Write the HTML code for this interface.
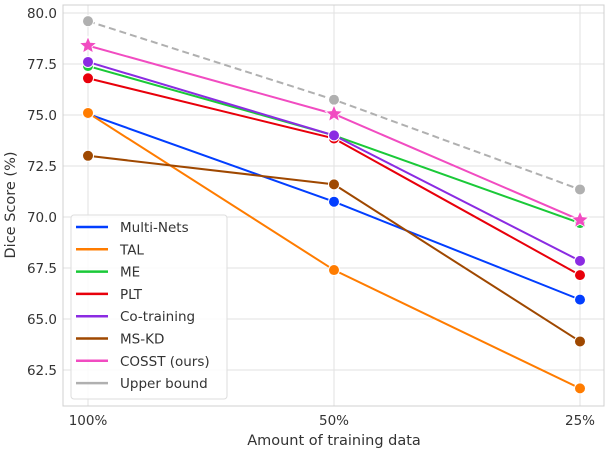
<!DOCTYPE html>
<html><head><meta charset="utf-8"><style>
body{margin:0;background:#fff;font-family:"DejaVu Sans","Liberation Sans",sans-serif;}
svg text{font-family:"DejaVu Sans","Liberation Sans",sans-serif;}
</style></head><body>
<svg id="chart" width="606" height="450" xmlns="http://www.w3.org/2000/svg"></svg>
<script>
const categories=["100%","50%","25%"];
const seriesNames=["Multi-Nets","TAL","ME","PLT","Co-training","MS-KD","COSST (ours)","Upper bound"];
const multiNets=[75.05,70.75,65.95];
const tal=[75.1,67.4,61.6];
const me=[77.4,74.0,69.7];
const plt=[76.8,73.85,67.15];
const coTraining=[77.6,74.0,67.85];
const msKd=[73.0,71.6,63.9];
const cosst=[78.4,75.05,69.85];
const upperBound=[79.6,75.75,71.35];
const yTicks=[62.5,65.0,67.5,70.0,72.5,75.0,77.5,80.0];
const colors=["#023eff","#ff7c00","#1ac938","#e8000b","#8b2be2","#9f4800","#f14cc1","#b0b0b0"];
const allSeries=[multiNets,tal,me,plt,coTraining,msKd,cosst,upperBound];
const NS="http://www.w3.org/2000/svg";
const svg=document.getElementById('chart');
const L=63,R=604,T=5,B=406;
const xs=i=>88+i*246;
const ys=v=>217+(70-v)*20.4;
function mk(t,a,p){const e=document.createElementNS(NS,t);for(const k in a)e.setAttribute(k,a[k]);(p||svg).appendChild(e);return e;}
yTicks.forEach(v=>{
 const g=mk('line',{x1:L,x2:R,y1:ys(v),y2:ys(v),stroke:'#e2e2e2','stroke-width':1});
 
 
 const t=mk('text',{x:57,y:ys(v)+5,'text-anchor':'end','font-size':13.5,fill:'#333'});
 t.textContent=v.toFixed(1);
 
 
});
categories.forEach((c,i)=>{
 const g=mk('line',{x1:xs(i),x2:xs(i),y1:T,y2:B,stroke:'#e2e2e2','stroke-width':1});
 
 
 const t=mk('text',{x:xs(i),y:425,'text-anchor':'middle','font-size':13.5,fill:'#333'});
 t.textContent=c;
 
 
});
const fr=mk('rect',{x:L,y:T,width:R-L,height:B-T,fill:'none',stroke:'#d0d0d0','stroke-width':1});


function star(cx,cy,r){let p=[];for(let k=0;k<10;k++){const a=-Math.PI/2+k*Math.PI/5;const rr=k%2?r*0.45:r;p.push((cx+rr*Math.cos(a)).toFixed(1)+','+(cy+rr*Math.sin(a)).toFixed(1));}return p.join(' ');}
const order=[7,0,1,5,3,2,4,6];
order.forEach(si=>{
 const d=allSeries[si];
 const pts=d.map((v,i)=>xs(i)+','+ys(v)).join(' ');
 const ln=mk('polyline',{points:pts,fill:'none',stroke:colors[si],'stroke-width':2,'stroke-dasharray':si===7?'7,4':'none'});
 
 
 d.forEach((v,i)=>{
  let m;
  if(si===6) m=mk('polygon',{points:star(xs(i),ys(v),9),fill:colors[si],stroke:'#fff','stroke-width':0.8});
  else m=mk('circle',{cx:xs(i),cy:ys(v),r:5.5,fill:colors[si],stroke:'#fff','stroke-width':1});
  
  
 });
});
const lg=mk('rect',{x:71,y:215,width:156,height:184,rx:3,fill:'#fff','fill-opacity':0.85,stroke:'#ddd'});


seriesNames.forEach((n,i)=>{
 const y=227+i*22.3;
 const l=mk('line',{x1:76,x2:108,y1:y,y2:y,stroke:colors[i],'stroke-width':2.5});
 
 
 const t=mk('text',{x:120,y:y+5,'font-size':13.5,fill:'#333'});
 t.textContent=n;
 
 
});
const xt=mk('text',{x:334,y:445,'text-anchor':'middle','font-size':14.5,fill:'#333'});
xt.textContent='Amount of training data';


const yt=mk('text',{x:0,y:0,'text-anchor':'middle','font-size':14.5,fill:'#333',transform:'translate(15,205) rotate(-90)'});
yt.textContent='Dice Score (%)';


</script>
</body></html>
